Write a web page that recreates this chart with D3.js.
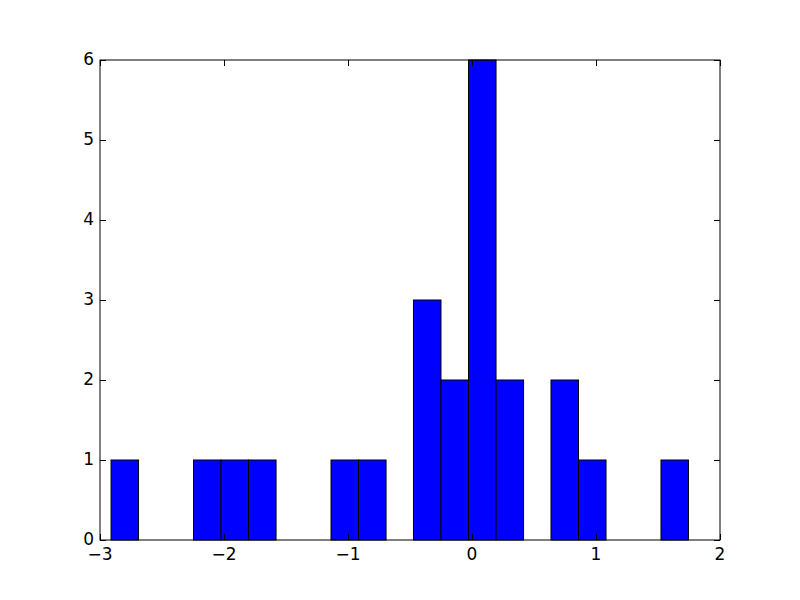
<!DOCTYPE html>
<html><head><meta charset="utf-8">
<script src="https://cdn.jsdelivr.net/npm/d3@7"></script>
<style>body{margin:0;background:#fff}svg{display:block}</style>
</head><body>
<svg id="c" width="800" height="600"></svg>
<script>
const binStarts = [-2.911, -2.246, -2.024, -1.802, -1.137, -0.915, -0.472, -0.250, -0.028, 0.194, 0.637, 0.859, 1.524];
const counts    = [1, 1, 1, 1, 1, 1, 3, 2, 6, 2, 2, 1, 1];
const binWidth  = 0.2218;
const xTicks = [-3, -2, -1, 0, 1, 2];
const yTicks = [0, 1, 2, 3, 4, 5, 6];

const svg = d3.select("#c");
const L = 100, R = 720, T = 60, B = 540;
const x = d3.scaleLinear().domain([-3, 2]).range([L, R]);
const y = d3.scaleLinear().domain([0, 6]).range([B, T]);

const bars = binStarts.map((s, i) => ({x0: s, x1: s + binWidth, n: counts[i]}));
svg.append("g").selectAll("rect").data(bars).join("rect")
  .attr("x", d => x(d.x0)).attr("y", d => y(d.n))
  .attr("width", d => x(d.x1) - x(d.x0)).attr("height", d => y(0) - y(d.n))
  .attr("fill", "#0000ff").attr("stroke", "#000").attr("stroke-width", 1);

const font = "DejaVu Sans";
const fmt = v => (v < 0 ? "\u2212" + Math.abs(v) : String(v));
const tl = 6;
const ax = svg.append("g").attr("stroke", "#000").attr("stroke-width", 1);
xTicks.forEach(v => {
  const px = Math.round(x(v)) + 0.5;
  ax.append("line").attr("x1", px).attr("x2", px).attr("y1", B).attr("y2", B - tl);
  ax.append("line").attr("x1", px).attr("x2", px).attr("y1", T).attr("y2", T + tl);
});
yTicks.forEach(v => {
  const py = Math.round(y(v)) + 0.5;
  ax.append("line").attr("x1", L).attr("x2", L + tl).attr("y1", py).attr("y2", py);
  ax.append("line").attr("x1", R).attr("x2", R - tl).attr("y1", py).attr("y2", py);
});
svg.append("rect").attr("x", L).attr("y", T).attr("width", R - L).attr("height", B - T)
  .attr("fill", "none").attr("stroke", "#000").attr("stroke-width", 1);

svg.append("g").selectAll("text").data(xTicks).join("text")
  .attr("x", d => x(d)).attr("y", B + 20).attr("text-anchor", "middle")
  .attr("font-family", font).attr("font-size", 17).text(fmt);
svg.append("g").selectAll("text").data(yTicks).join("text")
  .attr("x", L - 6).attr("y", d => y(d) + 5).attr("text-anchor", "end")
  .attr("font-family", font).attr("font-size", 17).text(fmt);
</script>
</body></html>
